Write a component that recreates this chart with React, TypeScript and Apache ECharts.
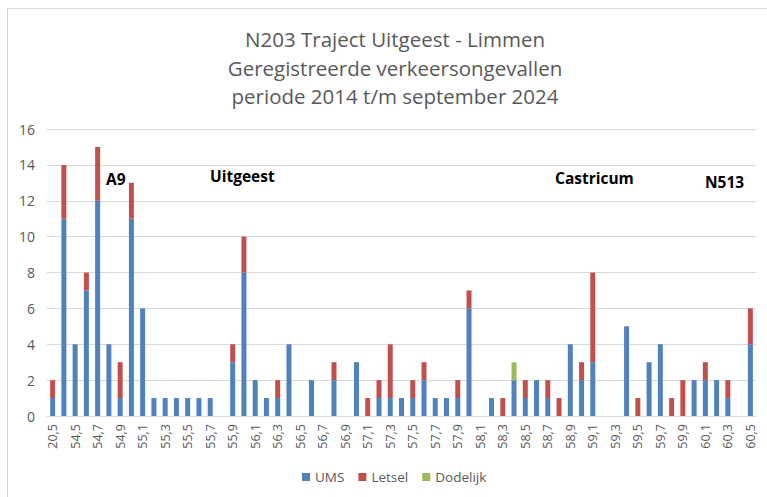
import React, { useEffect, useRef } from "react";
import * as echarts from "echarts";

const categories: string[] = [
  "20,5", "54,4", "54,5", "54,6", "54,7", "54,8", "54,9", "55,0", "55,1", "55,2",
  "55,3", "55,4", "55,5", "55,6", "55,7", "55,8", "55,9", "56,0", "56,1", "56,2",
  "56,3", "56,4", "56,5", "56,6", "56,7", "56,8", "56,9", "57,0", "57,1", "57,2",
  "57,3", "57,4", "57,5", "57,6", "57,7", "57,8", "57,9", "58,0", "58,1", "58,2",
  "58,3", "58,4", "58,5", "58,6", "58,7", "58,8", "58,9", "59,0", "59,1", "59,2",
  "59,3", "59,4", "59,5", "59,6", "59,7", "59,8", "59,9", "60,0", "60,1", "60,2",
  "60,3", "60,4", "60,5",
];

const ums: number[] = [
  1, 11, 4, 7, 12, 4, 1, 11, 6, 1,
  1, 1, 1, 1, 1, 0, 3, 8, 2, 1,
  1, 4, 0, 2, 0, 2, 0, 3, 0, 1,
  1, 1, 1, 2, 1, 1, 1, 6, 0, 1,
  0, 2, 1, 2, 1, 0, 4, 2, 3, 0,
  0, 5, 0, 3, 4, 0, 0, 2, 2, 2,
  1, 0, 4,
];

const letsel: number[] = [
  1, 3, 0, 1, 3, 0, 2, 2, 0, 0,
  0, 0, 0, 0, 0, 0, 1, 2, 0, 0,
  1, 0, 0, 0, 0, 1, 0, 0, 1, 1,
  3, 0, 1, 1, 0, 0, 1, 1, 0, 0,
  1, 0, 1, 0, 1, 1, 0, 1, 5, 0,
  0, 0, 1, 0, 0, 1, 2, 0, 1, 0,
  1, 0, 2,
];

const dodelijk: number[] = [
  0, 0, 0, 0, 0, 0, 0, 0, 0, 0,
  0, 0, 0, 0, 0, 0, 0, 0, 0, 0,
  0, 0, 0, 0, 0, 0, 0, 0, 0, 0,
  0, 0, 0, 0, 0, 0, 0, 0, 0, 0,
  0, 1, 0, 0, 0, 0, 0, 0, 0, 0,
  0, 0, 0, 0, 0, 0, 0, 0, 0, 0,
  0, 0, 0,
];

const titleLines: string[] = [
  "N203 Traject Uitgeest - Limmen",
  "Geregistreerde verkeersongevallen",
  "periode 2014 t/m september 2024",
];

const places = [
  { name: "A9", x: 106, y: 179 },
  { name: "Uitgeest", x: 210, y: 176 },
  { name: "Castricum", x: 555, y: 178 },
  { name: "N513", x: 705, y: 182 },
];

const FONT = "'Open Sans', 'Noto Sans', sans-serif";

export default function App() {
  const ref = useRef<HTMLDivElement>(null);
  useEffect(() => {
    if (!ref.current) return;
    const chart = echarts.init(ref.current, undefined, { renderer: "svg" });
    const mk = (name: string, data: number[], color: string) => ({
      name,
      type: "bar",
      stack: "total",
      data,
      barWidth: 5,
      itemStyle: { color },
    });
    chart.setOption({
      animation: false,
      backgroundColor: "#ffffff",
      textStyle: { fontFamily: FONT },
      title: {
        text: titleLines.join("\n"),
        left: 390,
        textAlign: "center",
        top: 20,
        textStyle: {
          fontFamily: FONT,
          fontSize: 20.5,
          fontWeight: "normal",
          color: "#595959",
          lineHeight: 28.5,
        },
      },
      legend: {
        bottom: 8,
        left: 297,
        icon: "rect",
        itemWidth: 8,
        itemHeight: 8,
        itemGap: 14,
        textStyle: { fontFamily: FONT, fontSize: 13.5, color: "#595959" },
        data: ["UMS", "Letsel", "Dodelijk"],
      },
      grid: { left: 47, right: 11, top: 129, bottom: 81, containLabel: false },
      xAxis: {
        type: "category",
        data: categories,
        axisLine: { lineStyle: { color: "#d9d9d9" } },
        axisTick: { show: false },
        axisLabel: {
          rotate: 90,
          interval: 1,
          color: "#595959",
          fontSize: 12.5,
          fontFamily: FONT,
          margin: 8,
        },
      },
      yAxis: {
        type: "value",
        min: 0,
        max: 16,
        interval: 2,
        axisLine: { show: false },
        axisTick: { show: false },
        splitLine: { lineStyle: { color: "#d9d9d9", width: 1 } },
        axisLabel: { color: "#595959", fontSize: 14, fontFamily: FONT, margin: 12 },
      },
      graphic: [
        {
          type: "rect",
          shape: { x: 7.5, y: 8.5, width: 780, height: 500 },
          style: { fill: "none", stroke: "#d9d9d9", lineWidth: 1 },
          silent: true,
        },
        ...places.map((p) => ({
          type: "text",
          x: p.x,
          y: p.y,
          style: {
            text: p.name,
            fontFamily: FONT,
            fontSize: 15.5,
            fontWeight: "bold",
            fill: "#000000",
            textVerticalAlign: "middle",
          },
        })),
      ],
      series: [
        mk("UMS", ums, "#4f81bd"),
        mk("Letsel", letsel, "#c0504d"),
        mk("Dodelijk", dodelijk, "#9bbb59"),
      ],
    });
    return () => chart.dispose();
  }, []);
  return (
    <div
      ref={ref}
      style={{ position: "absolute", left: 0, top: 0, width: 767, height: 497 }}
    />
  );
}
